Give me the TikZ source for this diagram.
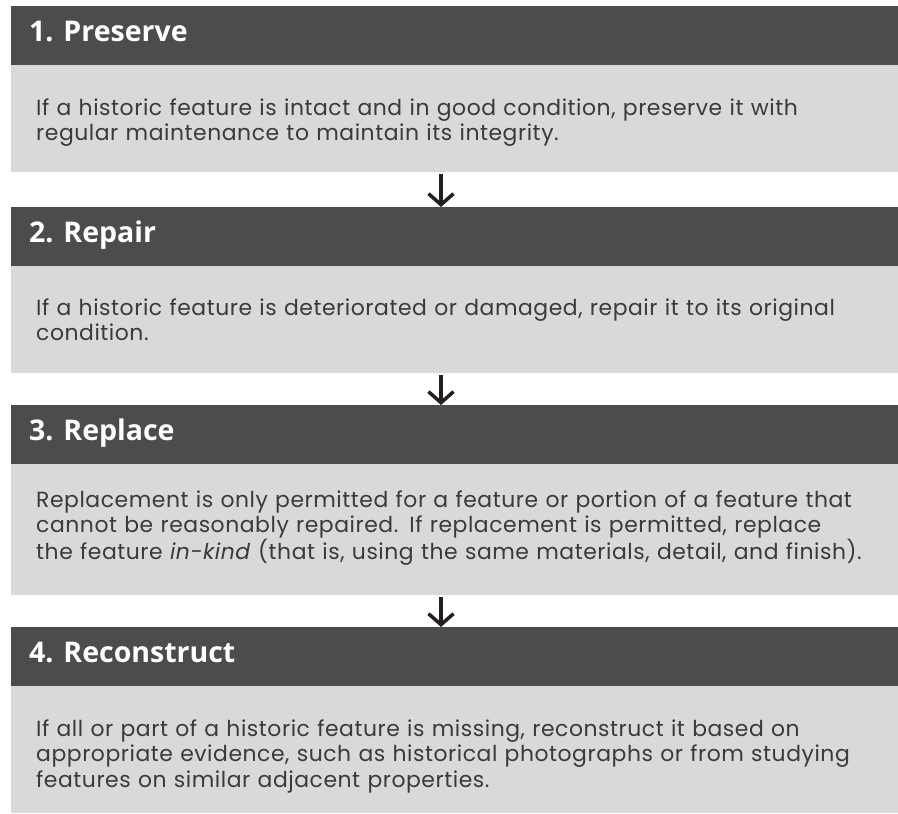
\documentclass[tikz,border=0pt]{standalone}
\usepackage{fontspec}
\setmainfont{Poppins}[LetterSpace=2.5]
\newfontfamily\headfont{Open Sans}
\usetikzlibrary{positioning,arrows.meta}
\definecolor{headgray}{HTML}{4B4C4E}
\definecolor{panelgray}{HTML}{D8D9DB}
\definecolor{textgray}{HTML}{3A3A3C}
\definecolor{arrowgray}{HTML}{231F20}

\begin{document}
\begin{tikzpicture}[x=1pt,y=-1pt,node distance=0pt,
  head/.style={fill=headgray,minimum width=887pt,minimum height=59pt,inner sep=0pt,outer sep=0pt},
  panel/.style={fill=panelgray,minimum width=887pt,inner sep=0pt,outer sep=0pt},
  title/.style={anchor=base west,inner sep=0pt,text=white,font=\headfont\bfseries\fontsize{28.5}{34}\selectfont},
  blurb/.style={anchor=base west,inner sep=0pt,text=textgray,text width=860pt,align=left,font=\fontsize{21.9}{25.5}\selectfont},
  flow/.style={draw=arrowgray,line width=3.5pt,-{Straight Barb[length=11pt,width=25pt]}}]
  \useasboundingbox (0,0) rectangle (898,814);

  \node[head,anchor=north west] (h1) at (11,6) {};
  \node[panel,minimum height=107pt,below=of h1] (b1) {};
  \node[head,below=35pt of b1] (h2) {};
  \node[panel,minimum height=107pt,below=of h2] (b2) {};
  \node[head,below=32pt of b2] (h3) {};
  \node[panel,minimum height=131pt,below=of h3] (b3) {};
  \node[head,below=32pt of b3] (h4) {};
  \node[panel,minimum height=127pt,below=of h4] (b4) {};

  % titles
  \node[title] (t1) at ([xshift=18pt,yshift=-35pt]h1.north west) {1. Preserve};
  \node[title] (t2) at ([xshift=18pt,yshift=-35pt]h2.north west) {2. Repair};
  \node[title] (t3) at ([xshift=18pt,yshift=-35pt]h3.north west) {3. Replace};
  \node[title] (t4) at ([xshift=18pt,yshift=-35pt]h4.north west) {4. Reconstruct};

  % texts
  \node[blurb] (p1) at ([xshift=25pt,yshift=-50pt]b1.north west)
    {If a historic feature is intact and in good condition, preserve it with\\
     regular maintenance to maintain its integrity.};
  \node[blurb] (p2) at ([xshift=25pt,yshift=-49pt]b2.north west)
    {If a historic feature is deteriorated or damaged, repair it to its original\\
     condition.};
  \node[blurb] (p3) at ([xshift=25pt,yshift=-43pt]b3.north west)
    {Replacement is only permitted for a feature or portion of a feature that\\
     cannot be reasonably repaired. If replacement is permitted, replace\\
     the feature \textit{in-kind} (that is, using the same materials, detail, and finish).};
  \node[blurb] (p4) at ([xshift=25pt,yshift=-50pt]b4.north west)
    {If all or part of a historic feature is missing, reconstruct it based on\\
     appropriate evidence, such as historical photographs or from studying\\
     features on similar adjacent properties.};

  \draw[flow] ([xshift=-13.5pt,yshift=-2pt]b1.south) -- ([xshift=-13.5pt]h2.north);
  \draw[flow] ([xshift=-13.5pt,yshift=-2pt]b2.south) -- ([xshift=-13.5pt]h3.north);
  \draw[flow] ([xshift=-13.5pt,yshift=-2pt]b3.south) -- ([xshift=-13.5pt]h4.north);
\end{tikzpicture}
\end{document}
